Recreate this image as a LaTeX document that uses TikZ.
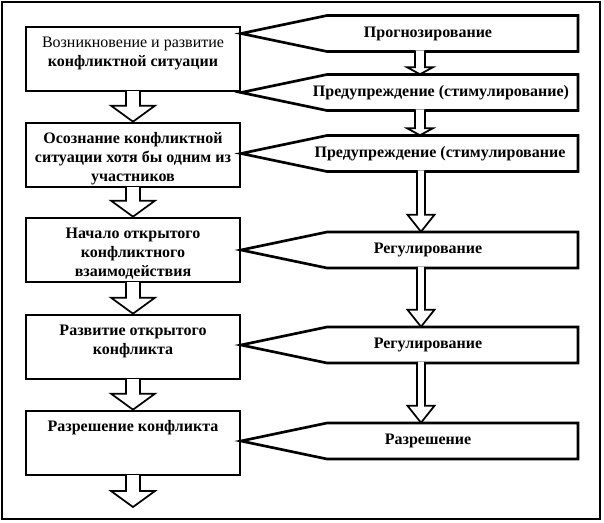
\documentclass[tikz,border=0pt]{standalone}
\usepackage{fontspec}
\setmainfont{Liberation Serif}
\usepackage{tikz}
\usetikzlibrary{calc}

\newcommand{\stagetext}[1]{\parbox[c][48pt][t]{158pt}{\centering\rule{0pt}{15pt}#1}}
\newcommand{\blockarrow}[6]{%
  \draw[hollow] let \p1=(#1,0), \p2=(#2), \p3=(#3), \p4=(#4,#6), \p5=(#5,0) in
    (\x1-\x4,\y2+1pt) -- (\x1-\x4,\y3-\y4) -- (\x1-\x5,\y3-\y4) -- (\x1,\y3)
    -- (\x1+\x5,\y3-\y4) -- (\x1+\x4,\y3-\y4) -- (\x1+\x4,\y2+1pt);}

\begin{document}
\begin{tikzpicture}[x=0.75pt, y=-0.75pt, font=\fontsize{12}{14.5}\selectfont\bfseries,
        stage/.style={draw, line width=2pt, minimum width=160.5pt, minimum height=48pt, inner sep=0pt},
        phase/.style={minimum height=27pt, inner sep=0pt, text height=8pt, text depth=2.5pt},
        pointer/.style={draw, line width=2pt, fill=white, line join=miter},
        hollow/.style={draw, line width=1.3pt, fill=white, line join=miter},
        frame/.style={draw, line width=1.5pt}]
        \useasboundingbox (0,0) rectangle (604,522);
        \draw[frame] (2,2) rectangle (600,519);
        \foreach \n/\y/\t in {1/59/{\textmd{Возникновение и развитие}\\ конфликтной ситуации},
            2/155/{Осознание конфликтной\\ ситуации хотя бы одним из\\ участников},
            3/250/{Начало открытого\\ конфликтного\\ взаимодействия},
            4/347/{Развитие открытого\\ конфликта},
            5/443/{Разрешение конфликта}} {
          \node[stage] (s\n) at (133,\y) {\stagetext{\t}};
          }
        \coordinate (end) at (133,507);
        \foreach \n/\y/\tx/\t in {1/33.5/428/Прогнозирование, 2/92.5/441/Предупреждение (стимулирование),
            3/153.5/440/Предупреждение (стимулирование, 4/250/428/Регулирование,
            5/345/428/Регулирование, 6/441/428/Разрешение} {
          \draw[pointer] (241,\y) -- (327,\y-18) -- (578,\y-18) -- (578,\y+18) -- (327,\y+18) -- cycle;
          \node[phase] (r\n) at (\tx,\y) {\t};
          }
        \foreach \a/\b in {s1/s2, s2/s3, s3/s4, s4/s5} {
          \blockarrow{133}{\a.south}{\b.north}{7}{22}{16}
          }
        \blockarrow{133}{s5.south}{end}{7}{22}{16}
        \foreach \a/\b in {r1/r2, r2/r3} {
          \blockarrow{420}{\a.south}{\b.north}{5}{13}{7}
          }
        \foreach \a/\b in {r3/r4, r4/r5, r5/r6} {
          \blockarrow{421}{\a.south}{\b.north}{4}{13.5}{17}
          }
      \end{tikzpicture}
\end{document}
